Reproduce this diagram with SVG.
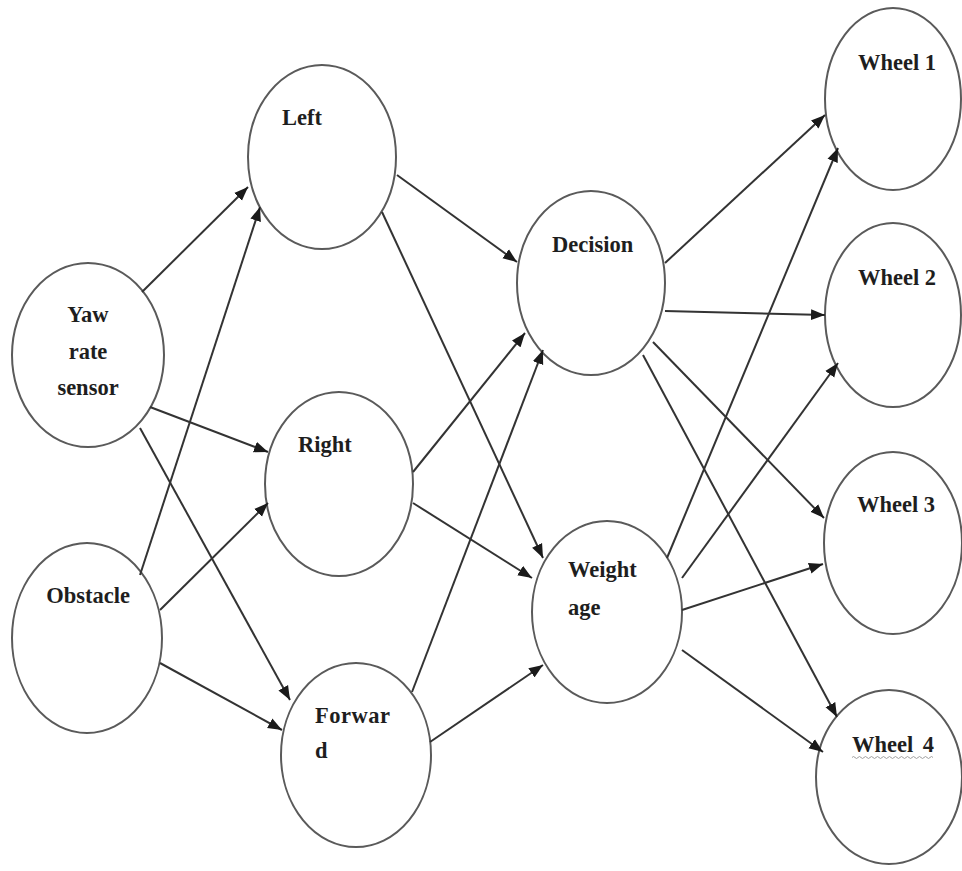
<svg xmlns="http://www.w3.org/2000/svg" width="962" height="871" viewBox="0 0 962 871">
  <style>
    .node { fill: #ffffff; stroke: #5a5a5a; stroke-width: 2; }
    .lbl { font-family: "Liberation Serif", "Times New Roman", serif; font-weight: bold; font-size: 22.5px; fill: #1e1e1e; }
    .mid { text-anchor: middle; }
    .edge { stroke: #333333; stroke-width: 2; fill: none; marker-end: url(#arrow); }
  </style>
  <defs>
    <marker id="arrow" markerUnits="userSpaceOnUse" markerWidth="16" markerHeight="12" viewBox="0 0 16 12" refX="14" refY="6" orient="auto">
      <path d="M0,0.5 L14,6 L0,11.5 Z" fill="#1a1a1a"/>
    </marker>
  </defs>
  <rect width="962" height="871" fill="#ffffff"/>

  <g id="nodes-shapes">
    <g id="yaw">
      <ellipse class="node" cx="88" cy="355" rx="76" ry="92"/>
      <text class="lbl mid" x="88" y="322">Yaw</text>
      <text class="lbl mid" x="88" y="359">rate</text>
      <text class="lbl mid" x="88" y="395">sensor</text>
    </g>
    <g id="obstacle">
      <ellipse class="node" cx="87" cy="638" rx="75" ry="95"/>
      <text class="lbl mid" x="88" y="603">Obstacle</text>
    </g>
    <g id="left">
      <ellipse class="node" cx="322" cy="157" rx="74" ry="92"/>
      <text class="lbl" x="282" y="125">Left</text>
    </g>
    <g id="right">
      <ellipse class="node" cx="339" cy="484" rx="74" ry="92"/>
      <text class="lbl" x="298" y="452">Right</text>
    </g>
    <g id="forward">
      <ellipse class="node" cx="356" cy="755" rx="75" ry="92"/>
      <text class="lbl" x="315" y="723" letter-spacing="0.5">Forwar</text>
      <text class="lbl" x="315" y="758">d</text>
    </g>
    <g id="decision">
      <ellipse class="node" cx="591" cy="283" rx="74" ry="92"/>
      <text class="lbl" x="552" y="252">Decision</text>
    </g>
    <g id="weightage">
      <ellipse class="node" cx="607" cy="612" rx="75" ry="91"/>
      <text class="lbl" x="568" y="577">Weight</text>
      <text class="lbl" x="568" y="615">age</text>
    </g>
    <g id="wheel1">
      <ellipse class="node" cx="893" cy="99" rx="68" ry="91"/>
      <text class="lbl" x="858" y="70">Wheel 1</text>
    </g>
    <g id="wheel2">
      <ellipse class="node" cx="893" cy="315" rx="68" ry="92"/>
      <text class="lbl" x="858" y="285">Wheel 2</text>
    </g>
    <g id="wheel3">
      <ellipse class="node" cx="893" cy="543" rx="69" ry="91"/>
      <text class="lbl" x="857" y="512">Wheel 3</text>
    </g>
    <g id="wheel4">
      <ellipse class="node" cx="889" cy="777" rx="73" ry="87"/>
      <text class="lbl" x="852" y="752" word-spacing="4">Wheel 4</text>
      <path d="M852,757.5 q1.5,-2 3,0 t3,0 t3,0 t3,0 t3,0 t3,0 t3,0 t3,0 t3,0 t3,0 t3,0 t3,0 t3,0 t3,0 t3,0 t3,0 t3,0 t3,0 t3,0 t3,0 t3,0 t3,0 t3,0 t3,0 t3,0 t3,0 t3,0" fill="none" stroke="#a0a0a0" stroke-width="1"/>
    </g>
  </g>

  <g id="connectors">
    <line class="edge" x1="142" y1="292" x2="248" y2="187"/>
    <line class="edge" x1="150" y1="407" x2="268" y2="452"/>
    <line class="edge" x1="140" y1="428" x2="290" y2="700"/>
    <line class="edge" x1="140" y1="575" x2="260" y2="207"/>
    <line class="edge" x1="160" y1="610" x2="268" y2="503"/>
    <line class="edge" x1="160" y1="663" x2="282" y2="730"/>
    <line class="edge" x1="397" y1="175" x2="517" y2="262"/>
    <line class="edge" x1="382" y1="212" x2="543" y2="558"/>
    <line class="edge" x1="413" y1="472" x2="525" y2="333"/>
    <line class="edge" x1="413" y1="503" x2="532" y2="578"/>
    <line class="edge" x1="412" y1="692" x2="543" y2="350"/>
    <line class="edge" x1="430" y1="742" x2="543" y2="665"/>
    <line class="edge" x1="665" y1="263" x2="825" y2="115"/>
    <line class="edge" x1="665" y1="311" x2="825" y2="315"/>
    <line class="edge" x1="653" y1="342" x2="824" y2="518"/>
    <line class="edge" x1="643" y1="355" x2="837" y2="717"/>
    <line class="edge" x1="667" y1="558" x2="838" y2="148"/>
    <line class="edge" x1="682" y1="578" x2="838" y2="363"/>
    <line class="edge" x1="682" y1="610" x2="823" y2="564"/>
    <line class="edge" x1="682" y1="650" x2="823" y2="752"/>
  </g>
</svg>
